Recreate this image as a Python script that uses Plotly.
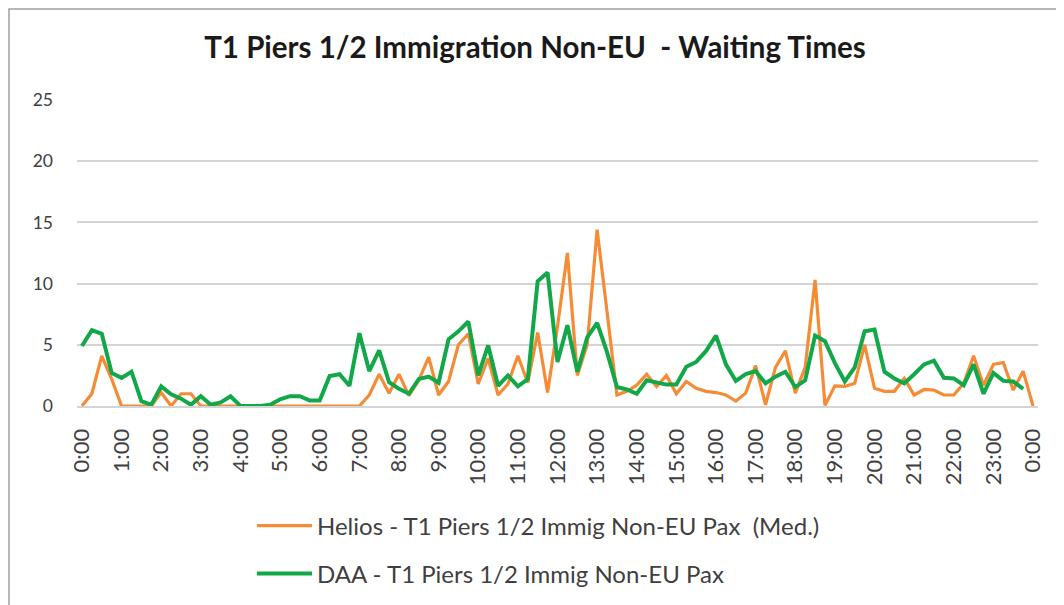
import plotly.graph_objects as go

# 15-minute slots from 0:00 to 24:00 (97 slots)
slot_labels = [f"{(m // 60) % 24}:{m % 60:02d}" for m in range(0, 24 * 60 + 1, 15)]
hour_tick_labels = ["0:00", "1:00", "2:00", "3:00", "4:00", "5:00", "6:00", "7:00",
                    "8:00", "9:00", "10:00", "11:00", "12:00", "13:00", "14:00", "15:00",
                    "16:00", "17:00", "18:00", "19:00", "20:00", "21:00", "22:00", "23:00", "0:00"]

helios = [0, 1.0, 4.1, 2.2, 0, 0, 0, 0, 1.1, 0,
          1.0, 1.0, 0, 0, 0, 0, 0, 0, 0, 0,
          0, 0, 0, 0, 0, 0, 0, 0, 0, 0.9,
          2.6, 1.05, 2.6, 0.85, 2.1, 4.0, 0.9, 2.0, 5.0, 5.9,
          1.8, 3.9, 0.9, 1.8, 4.1, 1.9, 6.0, 1.1, 6.5, 12.5,
          2.5, 5.0, 14.4, 7.7, 0.9, 1.2, 1.7, 2.6, 1.6, 2.5,
          1.0, 2.0, 1.45, 1.2, 1.1, 0.9, 0.4, 1.05, 3.3, 0.1,
          3.15, 4.5, 1.05, 3.15, 10.3, 0.05, 1.65, 1.6, 1.85, 5.0,
          1.45, 1.2, 1.2, 2.25, 0.9, 1.35, 1.3, 0.9, 0.9, 1.85,
          4.1, 1.7, 3.4, 3.55, 1.3, 2.85, 0]

daa = [4.9, 6.2, 5.9, 2.7, 2.3, 2.8, 0.4, 0.1, 1.6, 0.95,
       0.6, 0.1, 0.8, 0.1, 0.3, 0.8, 0, 0, 0, 0.1,
       0.55, 0.8, 0.8, 0.45, 0.45, 2.45, 2.6, 1.65, 5.95, 2.85,
       4.55, 1.95, 1.4, 1.0, 2.2, 2.4, 1.9, 5.45, 6.1, 6.9,
       2.5, 4.95, 1.65, 2.5, 1.6, 2.2, 10.2, 10.9, 3.6, 6.6,
       2.8, 5.6, 6.8, 4.4, 1.55, 1.35, 1.0, 2.1, 1.9, 1.75,
       1.75, 3.2, 3.6, 4.5, 5.75, 3.4, 2.05, 2.6, 2.85, 1.85,
       2.4, 2.8, 1.55, 2.1, 5.75, 5.3, 3.5, 2.0, 3.15, 6.1,
       6.25, 2.8, 2.25, 1.85, 2.6, 3.4, 3.7, 2.3, 2.25, 1.7,
       3.4, 1.0, 2.7, 2.05, 2.0, 1.4, None]

x_idx = list(range(len(slot_labels)))
hour_tick_vals = list(range(0, len(slot_labels), 4))

FONT = "Lato, 'Open Sans', sans-serif"

fig = go.Figure()
fig.add_trace(go.Scatter(
    x=x_idx, y=helios, mode="lines", customdata=slot_labels,
    name="Helios - T1 Piers 1/2 Immig Non-EU Pax  (Med.)",
    line=dict(color="#F58C35", width=3.2), legend="legend",
    hovertemplate="%{customdata}: %{y}<extra></extra>"))
fig.add_trace(go.Scatter(
    x=x_idx, y=daa, mode="lines", customdata=slot_labels,
    name="DAA - T1 Piers 1/2 Immig Non-EU Pax",
    line=dict(color="#12A84A", width=4), legend="legend2",
    hovertemplate="%{customdata}: %{y}<extra></extra>"))

legend_common = dict(orientation="v", xanchor="left", yanchor="middle",
                     xref="container", yref="container",
                     bgcolor="rgba(0,0,0,0)", itemwidth=55,
                     font=dict(family=FONT, size=24, color="#404040"))

# page body has an 8px offset, so target positions are shifted by -8px
fig.update_layout(
    width=1064, height=605,
    margin=dict(l=69, r=34, t=92, b=207, autoexpand=False),
    paper_bgcolor="white", plot_bgcolor="white",
    title=dict(text="<b>T1 Piers 1/2 Immigration Non-EU  - Waiting Times</b>",
               x=(535 - 8) / 1064, xref="container", xanchor="center",
               y=1 - 40 / 605, yanchor="middle",
               font=dict(family=FONT, size=29.5, color="#1a1a1a")),
    xaxis=dict(range=[-0.5, len(slot_labels) - 0.5], tickmode="array",
               tickvals=hour_tick_vals, ticktext=hour_tick_labels, tickangle=-90,
               showgrid=False, zeroline=False, showline=True, linecolor="#d4d4d4", linewidth=2,
               ticks="", ticklabelstandoff=12, automargin=False,
               tickfont=dict(family=FONT, size=22, color="#404040")),
    yaxis=dict(range=[0, 25], tickvals=[0, 5, 10, 15, 20, 25], showgrid=True,
               gridcolor="#d4d4d4", gridwidth=2, zeroline=False, showline=False,
               ticks="", ticklabelstandoff=23, automargin=False,
               tickfont=dict(family=FONT, size=17.5, color="#404040")),
    legend=dict(x=244 / 1064, y=1 - (526 - 8) / 605, **legend_common),
    legend2=dict(x=244 / 1064, y=1 - (574 - 8) / 605, **legend_common),
    shapes=[dict(type="rect", xref="paper", yref="paper",
                 x0=(-68) / 961, x1=(1080 - 77) / 961,
                 y0=(406 - 620) / 306, y1=(406 - 9) / 306,
                 line=dict(color="#a0a0a0", width=1.5), layer="below")],
    showlegend=True,
)

fig.write_html("out.html")
